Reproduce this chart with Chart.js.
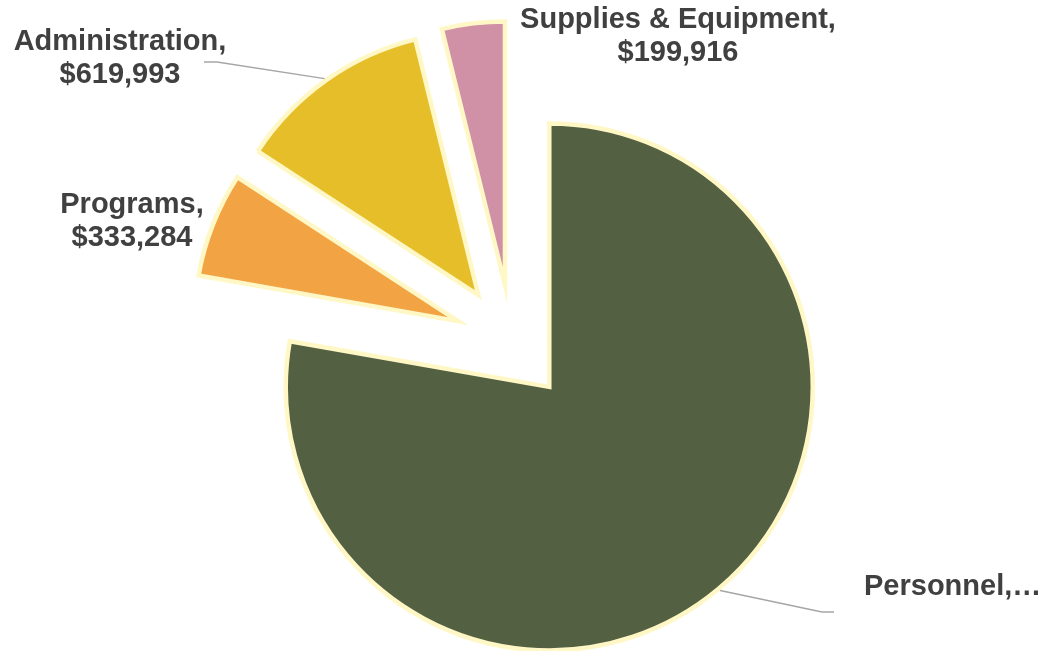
<!DOCTYPE html>
<html>
<head>
<meta charset="utf-8">
<script src="https://cdn.jsdelivr.net/npm/chart.js@4"></script>
<style>
  html, body { margin: 0; padding: 0; background: #fff; }
  #wrap { width: 1045px; height: 651px; position: relative; }
</style>
</head>
<body>
<div id="wrap"><canvas id="budgetPie"></canvas></div>
<script>
// Podaci sa grafikona (redosled: u smeru kazaljke od vrha)
const categories = ['Personnel', 'Programs', 'Administration', 'Supplies & Equipment'];
const amounts = [4036000, 333284, 619993, 199916];
const sliceColors = ['#536041', '#F2A444', '#E5BE2A', '#D091A7'];

// Tekst oznaka (Personnel je u originalu skraćen)
const labelLines = [
    ['Personnel,…'],
    ['Programs,', '$333,284'],
    ['Administration,', '$619,993'],
    ['Supplies & Equipment,', '$199,916']
];

// Pozicije oznaka i linija vodilica (ručno postavljene kao u Excelu)
const labelLayout = [
    { x: 864, y: 587, align: 'left', elbow: [822, 612], end: [834, 612] },
    { x: 132, y: 205, align: 'center' },
    { x: 120, y: 42, align: 'center', elbow: [217, 62], end: [204, 62] },
    { x: 678, y: 20, align: 'center' }
];

// Razmak "izvučenih" isečaka (Chart.js offset deli sa 4 i sužava uglove, pa ga crtamo sami)
const EXPLODE = 58;

const explodeSlices = {
    id: 'explodeSlices',
    beforeDatasetDraw(chart, args) {
        const ctx = chart.ctx;
        args.meta.data.forEach(arc => {
            const mid = (arc.startAngle + arc.endAngle) / 2;
            ctx.save();
            ctx.translate(Math.cos(mid) * EXPLODE, Math.sin(mid) * EXPLODE);
            arc.draw(ctx);
            ctx.restore();
        });
        return false;
    }
};

const pieLabels = {
    id: 'pieLabels',
    afterDraw(chart) {
        const ctx = chart.ctx;
        const meta = chart.getDatasetMeta(0);
        const bw = chart.data.datasets[0].borderWidth;
        ctx.save();
        meta.data.forEach((arc, i) => {
            const lay = labelLayout[i];
            // linija vodilica od sredine luka
            if (lay.elbow) {
                const mid = (arc.startAngle + arc.endAngle) / 2;
                const r = arc.outerRadius + bw / 2 + EXPLODE;
                const px = arc.x + Math.cos(mid) * r;
                const py = arc.y + Math.sin(mid) * r;
                ctx.strokeStyle = '#A6A6A6';
                ctx.lineWidth = 1.3;
                ctx.beginPath();
                ctx.moveTo(px, py);
                ctx.lineTo(lay.elbow[0], lay.elbow[1]);
                ctx.lineTo(lay.end[0], lay.end[1]);
                ctx.stroke();
            }
            ctx.fillStyle = '#404040';
            ctx.font = 'bold 29px "Liberation Sans", Arial, sans-serif';
            ctx.textAlign = lay.align;
            ctx.textBaseline = 'middle';
            labelLines[i].forEach((line, j) => {
                ctx.fillText(line, lay.x, lay.y + j * 33);
            });
        });
        ctx.restore();
    }
};

new Chart(document.getElementById('budgetPie'), {
    type: 'pie',
    data: {
        labels: categories,
        datasets: [{
            data: amounts,
            backgroundColor: sliceColors,
            borderColor: '#FFF8C6',
            borderWidth: 4.5,
            borderJoinStyle: 'miter'
        }]
    },
    options: {
        responsive: true,
        maintainAspectRatio: false,
        animation: false,
        radius: 263.5,
        layout: { padding: { left: 0, right: 21, top: 34, bottom: 0 } },
        plugins: {
            legend: { display: false },
            tooltip: { enabled: false }
        }
    },
    plugins: [explodeSlices, pieLabels]
});
</script>
</body>
</html>
